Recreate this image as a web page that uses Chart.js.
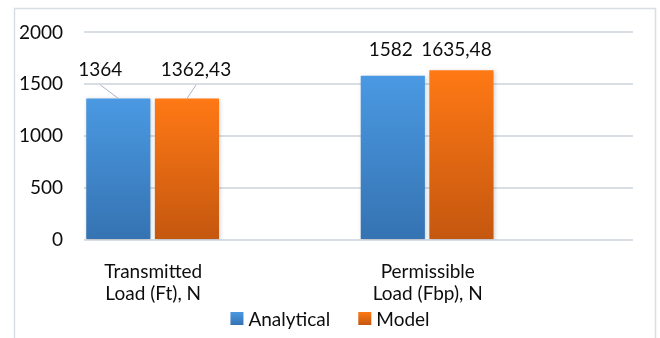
<!DOCTYPE html>
<html>
<head>
<meta charset="utf-8">
<script src="https://cdn.jsdelivr.net/npm/chart.js@4"></script>
<style>
  html, body { margin: 0; padding: 0; background: #ffffff; }
  #wrap { width: 660px; height: 338px; position: relative; }
</style>
</head>
<body>
<div id="wrap"><canvas id="c" width="660" height="338"></canvas></div>
<script>
// ---- data ----
const categories = [['Transmitted', 'Load (Ft), N'], ['Permissible', 'Load (Fbp), N']];
const seriesNames = ['Analytical', 'Model'];
const analytical = [1364, 1582];
const model = [1362.43, 1635.48];
const yTickValues = [0, 500, 1000, 1500, 2000];

// ---- styles ----
const FONT = 'Lato, "Open Sans", sans-serif';
const FS = 19;
const TEXT = '#0d0d0d';
const GRID = '#d9dee5';
const gradStops = {
  Analytical: ['#4a99e2', '#3573b2'],
  Model: ['#ff7915', '#c4570f']
};
// label shift per series per category: [dx, dy above bar top]
const labelShift = [[[-18, 29], [-2, 25.5]], [[9, 29], [-5, 20]]];

function barGradient(name) {
  return function (ctx) {
    const chart = ctx.chart;
    const ys = chart.scales && chart.scales.y;
    if (!ys || ctx.raw == null || !chart.chartArea) return gradStops[name][0];
    const top = ys.getPixelForValue(ctx.raw);
    const bot = ys.getPixelForValue(0);
    const g = chart.ctx.createLinearGradient(0, top, 0, bot);
    g.addColorStop(0, gradStops[name][0]);
    g.addColorStop(1, gradStops[name][1]);
    return g;
  };
}

const frame = {
  id: 'frame',
  beforeDraw(chart) {
    const c = chart.ctx;
    c.save();
    c.fillStyle = '#fff';
    c.fillRect(0, 0, chart.width, chart.height);
    c.strokeStyle = GRID;
    c.lineWidth = 1.5;
    c.strokeRect(14.5, 8.5, 641, 360);
    c.restore();
  }
};

// let the y tick labels draw past the left layout padding
const unclipY = {
  id: 'unclipY',
  afterLayout(chart) { chart.scales.y.left = 0; }
};

// faint soft shadow under the bars
const barShadow = {
  id: 'barShadow',
  beforeDatasetsDraw(chart) {
    const c = chart.ctx;
    c.save();
    c.shadowColor = 'rgba(0,0,0,0.18)';
    c.shadowBlur = 4;
    c.shadowOffsetX = 1;
    c.shadowOffsetY = 1;
  },
  afterDatasetsDraw(chart) { chart.ctx.restore(); }
};

const valueLabels = {
  id: 'valueLabels',
  afterDatasetsDraw(chart) {
    const c = chart.ctx;
    c.save();
    c.font = FS + 'px ' + FONT;
    c.fillStyle = TEXT;
    c.textAlign = 'center';
    c.textBaseline = 'middle';
    [0, 1].forEach(di => {
      const meta = chart.getDatasetMeta(di);
      meta.data.forEach((bar, i) => {
        const v = chart.data.datasets[di].data[i];
        const [dx, dy] = labelShift[di][i];
        const lx = bar.x + dx, ly = bar.y - dy;
        if (dy >= 28) {
          c.strokeStyle = '#a7b6ca';
          c.lineWidth = 1;
          c.beginPath();
          c.moveTo(lx, ly + 15.5);
          c.lineTo(bar.x, bar.y);
          c.stroke();
        }
        c.fillText(String(v).replace('.', ','), lx, ly);
      });
    });
    c.restore();
  }
};

// bottom legend, Excel style (small gap between swatch and text)
const bottomLegend = {
  id: 'bottomLegend',
  afterDraw(chart) {
    const c = chart.ctx;
    const box = 13, gap = 5, itemGap = 28;
    c.save();
    c.font = FS + 'px ' + FONT;
    c.textBaseline = 'middle';
    c.textAlign = 'left';
    const widths = seriesNames.map(n => box + gap + c.measureText(n).width);
    const total = widths.reduce((a, b) => a + b, 0) + itemGap * (seriesNames.length - 1);
    let x = chart.width / 2 - total / 2;
    const cy = 318.5;
    seriesNames.forEach((n, i) => {
      const g = c.createLinearGradient(0, cy - box / 2, 0, cy + box / 2);
      g.addColorStop(0, gradStops[n][0]);
      g.addColorStop(1, gradStops[n][1]);
      c.fillStyle = g;
      c.fillRect(x, cy - box / 2, box, box);
      c.fillStyle = TEXT;
      c.fillText(n, x + box + gap, cy + 1);
      x += widths[i] + itemGap;
    });
    c.restore();
  }
};

new Chart(document.getElementById('c'), {
  type: 'bar',
  data: {
    labels: categories,
    datasets: [
      { label: seriesNames[0], data: analytical, backgroundColor: barGradient('Analytical') },
      { label: seriesNames[1], data: model, backgroundColor: barGradient('Model') },
      { label: '', data: [null, null] },
      { label: '', data: [null, null] }
    ]
  },
  options: {
    responsive: false,
    animation: false,
    devicePixelRatio: 1,
    categoryPercentage: 1,
    barPercentage: 0.935,
    layout: { padding: { left: 27, right: 27, top: 32, bottom: 34 } },
    plugins: {
      tooltip: { enabled: false },
      legend: { display: false }
    },
    scales: {
      x: {
        afterFit(scale) { scale.height = 64; },
        grid: { display: false, drawTicks: false },
        border: { display: false },
        ticks: {
          font: { family: FONT, size: FS },
          color: TEXT,
          padding: 20,
          labelOffset: -68,
          maxRotation: 0,
          autoSkip: false
        }
      },
      y: {
        min: 0,
        max: 2000,
        afterFit(scale) { scale.width = 57; },
        afterBuildTicks(scale) { scale.ticks = yTickValues.map(v => ({ value: v })); },
        grid: { color: GRID, lineWidth: 2, drawTicks: false },
        border: { display: false },
        ticks: {
          font: { family: FONT, size: FS },
          color: TEXT,
          padding: 21,
          callback: v => String(v)
        }
      }
    }
  },
  plugins: [frame, unclipY, barShadow, valueLabels, bottomLegend]
});
</script>
</body>
</html>
